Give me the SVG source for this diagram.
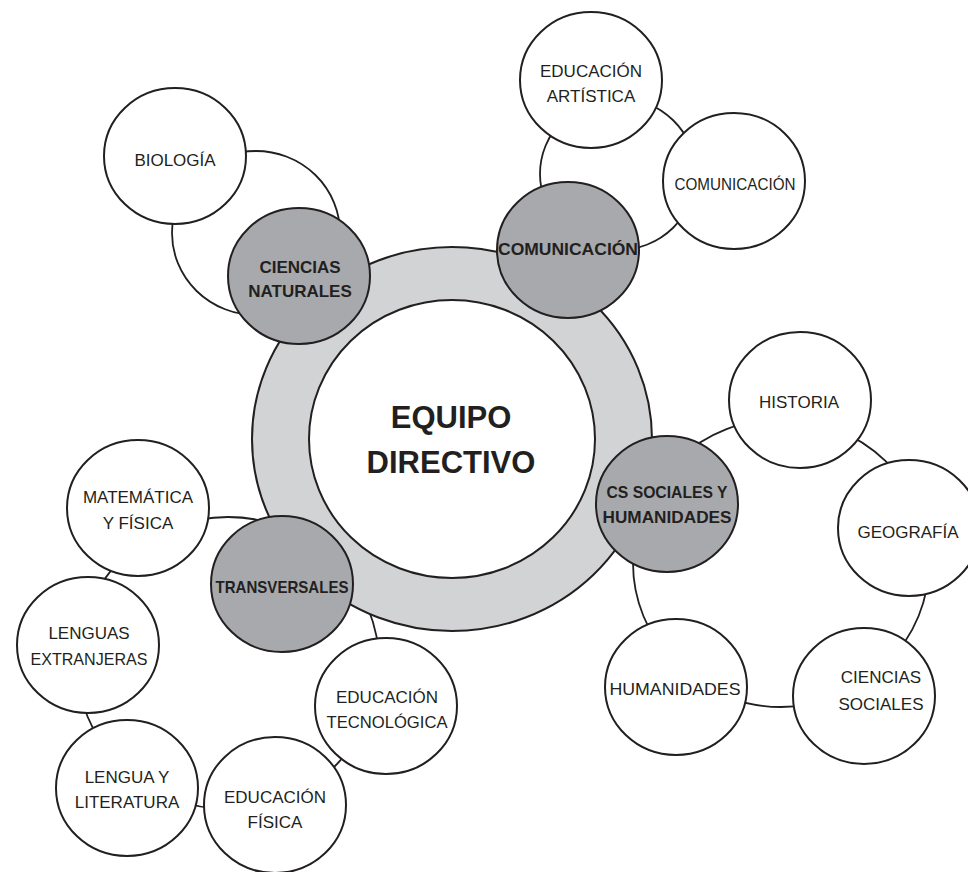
<svg xmlns="http://www.w3.org/2000/svg" width="968" height="872" viewBox="0 0 968 872">
<style>
.bg{fill:#ffffff}
.conn{fill:none;stroke:#231f20;stroke-width:1.8}
.w{fill:#ffffff;stroke:#231f20;stroke-width:2}
.g{fill:#a7a9ac;stroke:#231f20;stroke-width:2}
.ring{fill:#d1d3d4;stroke:#231f20;stroke-width:2}
.inner{fill:#ffffff;stroke:#231f20;stroke-width:2}
text{font-family:"Liberation Sans",Arial,sans-serif;fill:#231f20;text-anchor:middle}
.t{font-size:17px}
.tb{font-size:17px;font-weight:bold}
.big{font-size:31px;font-weight:bold}
</style>
<rect class="bg" x="0" y="0" width="968" height="872"/>
<g id="connectors">
<ellipse class="conn" cx="256" cy="233" rx="84" ry="82"/>
<ellipse class="conn" cx="618" cy="174" rx="78" ry="76"/>
<ellipse class="conn" cx="781" cy="563" rx="148" ry="144"/>
<ellipse class="conn" cx="228" cy="663" rx="151" ry="146"/>
</g>
<g id="equipo-directivo">
<ellipse class="ring" cx="452" cy="439" rx="200" ry="192"/>
<ellipse class="inner" cx="452" cy="439" rx="143" ry="139"/>
<text class="big" x="451" y="428">EQUIPO</text>
<text class="big" x="451" y="473">DIRECTIVO</text>
</g>
<g id="biologia">
<ellipse class="w" cx="175" cy="156" rx="71" ry="68"/>
<text class="t" x="175" y="166">BIOLOGÍA</text>
</g>
<g id="educacion-artistica">
<ellipse class="w" cx="591" cy="80" rx="71" ry="68"/>
<text class="t" x="591" y="77">EDUCACIÓN</text>
<text class="t" x="591" y="102">ARTÍSTICA</text>
</g>
<g id="comunicacion-materia">
<ellipse class="w" cx="734" cy="181" rx="71" ry="68"/>
<text class="t" x="735" y="190" textLength="121" lengthAdjust="spacingAndGlyphs">COMUNICACIÓN</text>
</g>
<g id="historia">
<ellipse class="w" cx="800" cy="400" rx="71" ry="68"/>
<text class="t" x="799" y="408">HISTORIA</text>
</g>
<g id="geografia">
<ellipse class="w" cx="909" cy="528" rx="71" ry="68"/>
<text class="t" x="908" y="538">GEOGRAFÍA</text>
</g>
<g id="ciencias-sociales">
<ellipse class="w" cx="864" cy="696" rx="71" ry="68"/>
<text class="t" x="881" y="683">CIENCIAS</text>
<text class="t" x="881" y="710">SOCIALES</text>
</g>
<g id="humanidades">
<ellipse class="w" cx="676" cy="687" rx="71" ry="68"/>
<text class="t" x="675" y="695" textLength="131" lengthAdjust="spacingAndGlyphs">HUMANIDADES</text>
</g>
<g id="matematica">
<ellipse class="w" cx="138" cy="508" rx="71" ry="68"/>
<text class="t" x="138" y="503">MATEMÁTICA</text>
<text class="t" x="138" y="529">Y FÍSICA</text>
</g>
<g id="lenguas-extranjeras">
<ellipse class="w" cx="88" cy="645" rx="71" ry="68"/>
<text class="t" x="89" y="639">LENGUAS</text>
<text class="t" x="89" y="665" textLength="117" lengthAdjust="spacingAndGlyphs">EXTRANJERAS</text>
</g>
<g id="lengua-literatura">
<ellipse class="w" cx="127" cy="788" rx="71" ry="68"/>
<text class="t" x="127" y="783">LENGUA Y</text>
<text class="t" x="127" y="808">LITERATURA</text>
</g>
<g id="educacion-fisica">
<ellipse class="w" cx="275" cy="805" rx="71" ry="68"/>
<text class="t" x="275" y="803">EDUCACIÓN</text>
<text class="t" x="275" y="828">FÍSICA</text>
</g>
<g id="educacion-tecnologica">
<ellipse class="w" cx="386" cy="706" rx="71" ry="68"/>
<text class="t" x="387" y="703">EDUCACIÓN</text>
<text class="t" x="387" y="728" textLength="121" lengthAdjust="spacingAndGlyphs">TECNOLÓGICA</text>
</g>
<g id="ciencias-naturales">
<ellipse class="g" cx="299" cy="276" rx="71" ry="68"/>
<text class="tb" x="300" y="273">CIENCIAS</text>
<text class="tb" x="300" y="297">NATURALES</text>
</g>
<g id="comunicacion">
<ellipse class="g" cx="568" cy="250" rx="71" ry="68"/>
<text class="tb" x="568" y="255" textLength="140" lengthAdjust="spacingAndGlyphs">COMUNICACIÓN</text>
</g>
<g id="cs-sociales-humanidades">
<ellipse class="g" cx="667" cy="504" rx="71" ry="68"/>
<text class="tb" x="667" y="498" textLength="121" lengthAdjust="spacingAndGlyphs">CS SOCIALES Y</text>
<text class="tb" x="667" y="523" textLength="129" lengthAdjust="spacingAndGlyphs">HUMANIDADES</text>
</g>
<g id="transversales">
<ellipse class="g" cx="282" cy="584" rx="71" ry="68"/>
<text class="tb" x="282" y="593" textLength="133" lengthAdjust="spacingAndGlyphs">TRANSVERSALES</text>
</g>
</svg>
